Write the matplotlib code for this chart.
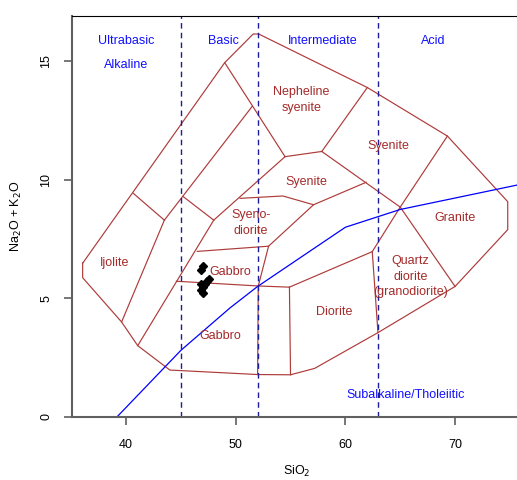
import matplotlib
matplotlib.use("Agg")
import matplotlib.pyplot as plt

plt.rcParams['font.family'] = ['Liberation Sans', 'DejaVu Sans']

# samples (SiO2, Na2O+K2O)
sio2 = [47.05, 46.84, 47.55, 47.35, 47.2, 46.85, 47.05, 46.8, 47.0]
alk = [6.36, 6.2, 5.82, 5.75, 5.62, 5.6, 5.48, 5.35, 5.22]

# outer limit of the plutonic fields
outer_x = [36.05, 36.05, 39.6, 41.07, 44.0, 52.0, 55.0, 57.2, 62.97, 70.0, 74.8, 74.8, 69.3, 62.0, 52.1, 51.6, 49.0, 36.05]
outer_y = [6.48, 5.87, 4.0, 3.0, 1.97, 1.78, 1.77, 2.04, 3.55, 5.5, 7.9, 9.08, 11.85, 13.9, 16.16, 16.16, 14.95, 6.48]

# internal field boundaries
boundaries = [
    ([40.67, 43.5], [9.43, 8.3]),
    ([43.5, 39.6], [8.3, 4.0]),
    ([43.5, 51.5], [8.3, 13.1]),
    ([49.0, 54.5], [14.95, 10.98]),
    ([45.2, 48.0], [9.3, 8.3]),
    ([41.07, 48.0], [3.0, 8.3]),
    ([48.0, 54.5], [8.3, 10.98]),
    ([54.5, 57.85], [10.98, 11.2]),
    ([57.85, 62.0], [11.2, 13.9]),
    ([57.85, 65.0], [11.2, 8.85]),
    ([50.4, 54.3, 57.1, 61.9], [9.22, 9.32, 8.95, 9.9]),
    ([57.1, 53.0, 52.06, 52.0], [8.95, 7.2, 5.52, 1.78]),
    ([46.5, 53.0], [6.98, 7.2]),
    ([44.6, 52.06, 54.9], [5.72, 5.52, 5.47]),
    ([54.9, 55.0], [5.47, 1.77]),
    ([54.9, 62.45], [5.47, 6.97]),
    ([62.45, 62.97], [6.97, 3.55]),
    ([62.45, 65.0], [6.97, 8.85]),
    ([65.0, 69.3], [8.85, 11.85]),
    ([65.0, 70.0], [8.85, 5.5]),
]

# alkaline / subalkaline divide
divide_x = [39.2, 45.0, 49.5, 52.0, 56.0, 60.0, 65.0, 77.4]
divide_y = [0.0, 2.8, 4.6, 5.5, 6.75, 8.0, 8.75, 9.95]

# silica classes
class_limits = [45, 52, 63]

field_names = ["Ijolite", "Gabbro", "Gabbro", "Syeno-\ndiorite", "Nepheline\nsyenite",
               "Syenite", "Syenite", "Diorite", "Quartz\ndiorite\n(granodiorite)", "Granite"]
field_pos = [(39.0, 6.48), (49.48, 6.12), (48.57, 3.41), (51.4, 8.18), (55.98, 13.37),
             (56.44, 9.92), (63.95, 11.44), (58.96, 4.41), (65.95, 5.91), (69.96, 8.38)]

fig = plt.figure(figsize=(5.17, 4.8), dpi=100)
ax = fig.add_axes([72/517, 63.3/480, 450/517, 400.7/480])

line_col = '#AE3A3A'
ax.plot(outer_x, outer_y, color=line_col, lw=0.85)
for bx, by in boundaries:
    ax.plot(bx, by, color=line_col, lw=0.85)

ax.plot(divide_x, divide_y, color='#0000FF', lw=0.9)
for c in class_limits:
    ax.axvline(c, color='#1C1C9C', lw=1.0, dashes=(4, 3))

ax.plot(sio2, alk, linestyle='none', marker='D', ms=4.5, color='black')

for name, (tx, ty) in zip(field_names, field_pos):
    ax.text(tx, ty, name, color='#A52A2A', fontsize=9, ha='center', va='center',
            linespacing=1.4)

blue = '#1010FF'
ax.text(40.0, 15.86, "Ultrabasic", color=blue, fontsize=9, ha='center', va='center')
ax.text(40.0, 14.85, "Alkaline", color=blue, fontsize=9, ha='center', va='center')
ax.text(48.87, 15.86, "Basic", color=blue, fontsize=9, ha='center', va='center')
ax.text(57.96, 15.86, "Intermediate", color=blue, fontsize=9, ha='center', va='center')
ax.text(67.99, 15.86, "Acid", color=blue, fontsize=9, ha='center', va='center')
ax.text(65.52, 0.92, "Subalkaline/Tholeiitic", color=blue, fontsize=9, ha='center', va='center')

ax.set_xlim(35.08, 76.1)
ax.set_ylim(0, 16.92)
ax.set_xticks([40, 50, 60, 70])
ax.set_yticks([0, 5, 10, 15])
ax.tick_params(direction='out', length=6, width=1.2, color='#606060', labelsize=9)
ax.tick_params(axis='x', pad=10)
ax.tick_params(axis='y', pad=8)
for lab in ax.get_yticklabels():
    lab.set_rotation(90)
    lab.set_va('center')

for side in ['left', 'bottom']:
    ax.spines[side].set_color('#606060')
    ax.spines[side].set_linewidth(1.5)
ax.spines['top'].set_color('black')
ax.spines['right'].set_color('black')

ax.set_xlabel("SiO$_2$", fontsize=9, labelpad=9)
ax.set_ylabel("Na$_2$O + K$_2$O", fontsize=9, labelpad=12)

fig.savefig("out.png", dpi=100)
